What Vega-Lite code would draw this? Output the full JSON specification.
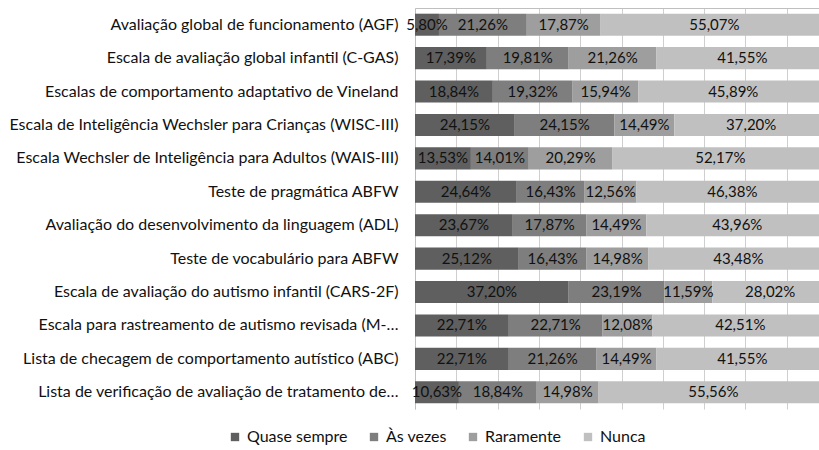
{
  "$schema": "https://vega.github.io/schema/vega-lite/v6.json",
  "width": 404,
  "height": 401,
  "autosize": {"type": "none"},
  "padding": {"left": 415, "top": 8, "right": 0, "bottom": 41},
  "config": {"view": {"stroke": null}, "font": "Lato"},
  "data": {"values": [
    {"cat": "Avaliação global de funcionamento (AGF)", "Quase sempre": 5.80, "Às vezes": 21.26, "Raramente": 17.87, "Nunca": 55.07},
    {"cat": "Escala de avaliação global infantil (C-GAS)", "Quase sempre": 17.39, "Às vezes": 19.81, "Raramente": 21.26, "Nunca": 41.55},
    {"cat": "Escalas de comportamento adaptativo de Vineland", "Quase sempre": 18.84, "Às vezes": 19.32, "Raramente": 15.94, "Nunca": 45.89},
    {"cat": "Escala de Inteligência Wechsler para Crianças (WISC-III)", "Quase sempre": 24.15, "Às vezes": 24.15, "Raramente": 14.49, "Nunca": 37.20},
    {"cat": "Escala Wechsler de Inteligência para Adultos (WAIS-III)", "Quase sempre": 13.53, "Às vezes": 14.01, "Raramente": 20.29, "Nunca": 52.17},
    {"cat": "Teste de pragmática ABFW", "Quase sempre": 24.64, "Às vezes": 16.43, "Raramente": 12.56, "Nunca": 46.38},
    {"cat": "Avaliação do desenvolvimento da linguagem (ADL)", "Quase sempre": 23.67, "Às vezes": 17.87, "Raramente": 14.49, "Nunca": 43.96},
    {"cat": "Teste de vocabulário para ABFW", "Quase sempre": 25.12, "Às vezes": 16.43, "Raramente": 14.98, "Nunca": 43.48},
    {"cat": "Escala de avaliação do autismo infantil (CARS-2F)", "Quase sempre": 37.20, "Às vezes": 23.19, "Raramente": 11.59, "Nunca": 28.02},
    {"cat": "Escala para rastreamento de autismo revisada (M-…", "Quase sempre": 22.71, "Às vezes": 22.71, "Raramente": 12.08, "Nunca": 42.51},
    {"cat": "Lista de checagem de comportamento autístico (ABC)", "Quase sempre": 22.71, "Às vezes": 21.26, "Raramente": 14.49, "Nunca": 41.55},
    {"cat": "Lista de verificação de avaliação de tratamento de…", "Quase sempre": 10.63, "Às vezes": 18.84, "Raramente": 14.98, "Nunca": 55.56}
  ]},
  "transform": [
    {"fold": ["Quase sempre", "Às vezes", "Raramente", "Nunca"], "as": ["serie", "pct"]},
    {"stack": "pct", "groupby": ["cat"], "as": ["x0", "x1"]},
    {"calculate": "(datum.x0 + datum.x1) / 2", "as": "mid"},
    {"calculate": "replace(format(datum.pct, '.2f'), '.', ',') + '%'", "as": "label"}
  ],
  "encoding": {
    "y": {
      "field": "cat", "type": "nominal", "sort": null, "title": null,
      "scale": {"paddingInner": 0.34, "paddingOuter": 0.17},
      "axis": {"ticks": false, "labelPadding": 17, "labelFontSize": 16, "labelFont": "Lato", "labelColor": "#111111", "labelLimit": 0, "domainColor": "#bfbfbf"}
    }
  },
  "layer": [
    {
      "mark": {"type": "bar", "clip": true},
      "encoding": {
        "x": {
          "field": "x0", "type": "quantitative", "title": null,
          "scale": {"domain": [0, 97.8], "nice": false, "zero": true},
          "axis": {"orient": "top", "labels": false, "ticks": false, "values": [0, 10, 20, 30, 40, 50, 60, 70, 80, 90], "grid": true, "gridColor": "#cfcfcf", "domainColor": "#bfbfbf"}
        },
        "x2": {"field": "x1"},
        "color": {
          "field": "serie", "type": "nominal",
          "scale": {"domain": ["Quase sempre", "Às vezes", "Raramente", "Nunca"], "range": ["#5f5f5f", "#7e7e7e", "#9e9e9e", "#c0c0c0"]},
          "legend": {"orient": "none", "legendX": -188, "legendY": 421, "direction": "horizontal", "title": null, "symbolType": "square", "symbolSize": 70, "symbolStrokeWidth": 0, "labelFontSize": 16, "labelFont": "Lato", "labelColor": "#111111", "columnPadding": 18, "symbolOffset": 0}
        }
      }
    },
    {
      "mark": {"type": "text", "fontSize": 15, "color": "#111111", "font": "Lato"},
      "encoding": {
        "x": {"field": "mid", "type": "quantitative"},
        "text": {"field": "label"}
      }
    }
  ]
}
